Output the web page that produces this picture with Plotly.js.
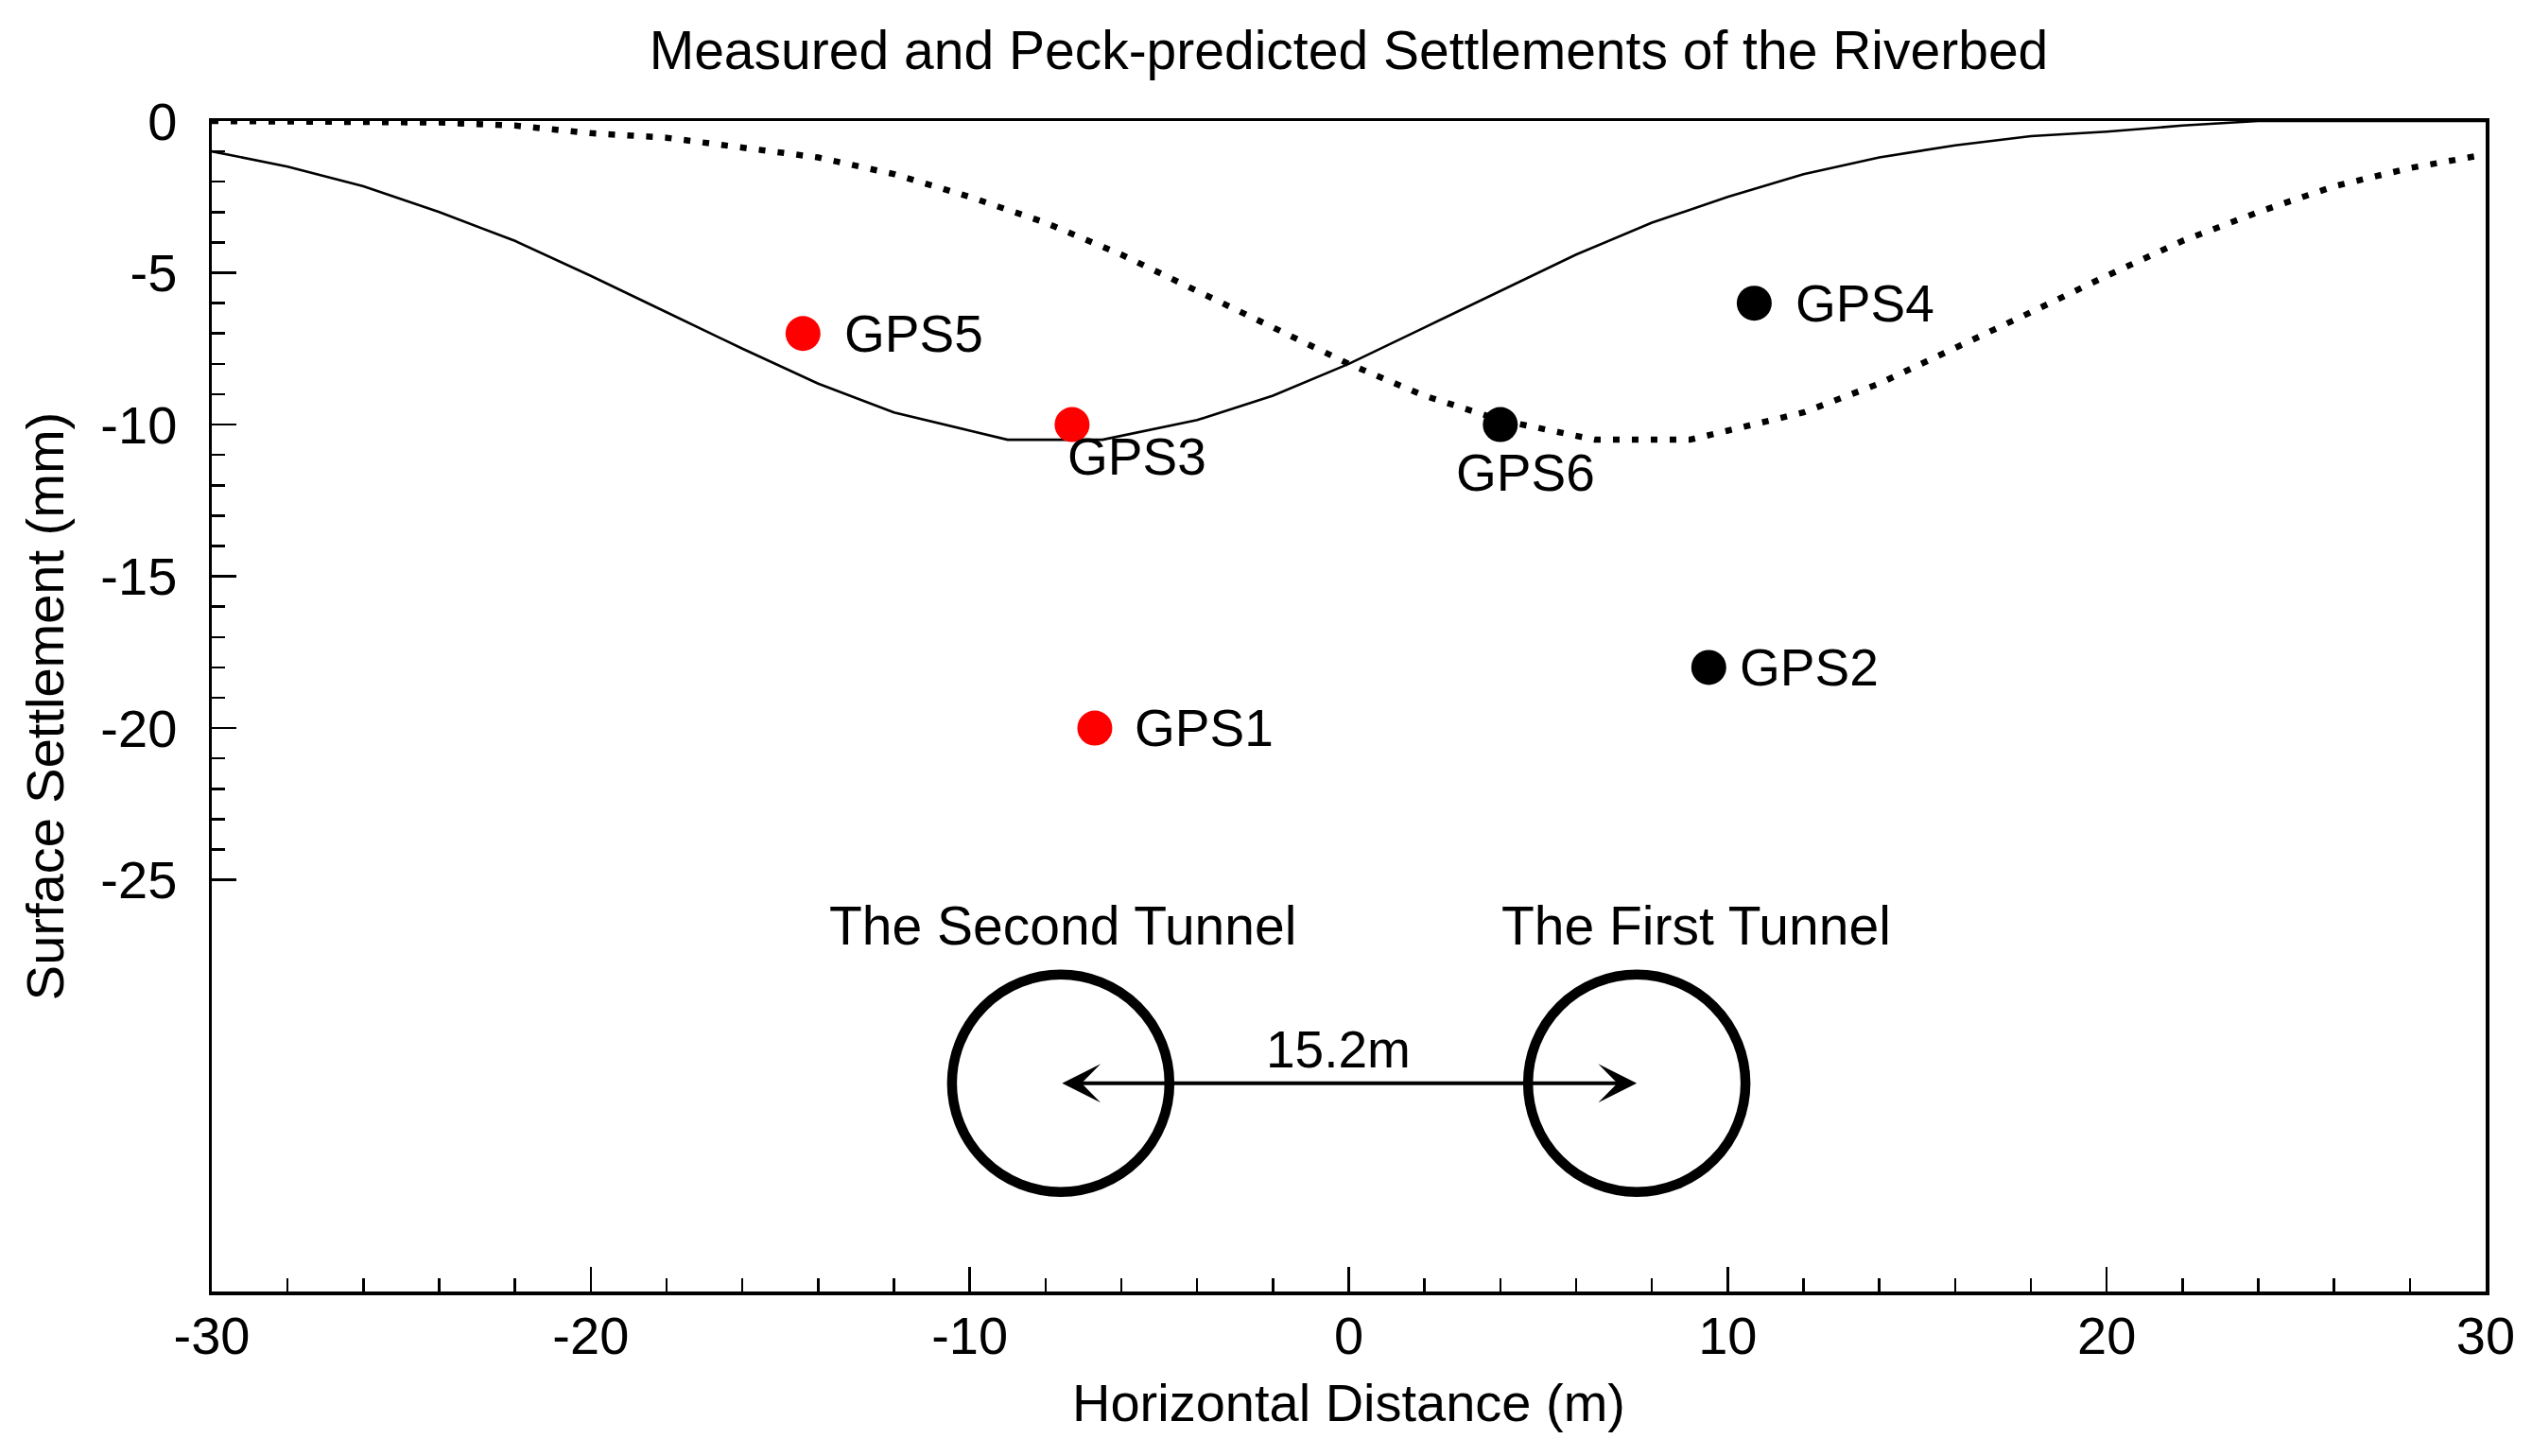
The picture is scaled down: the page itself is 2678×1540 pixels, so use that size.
<!DOCTYPE html>
<html>
<head>
<meta charset="utf-8">
<script src="https://cdn.plot.ly/plotly-3.0.1.min.js"></script>
<style>html,body{margin:0;padding:0;background:#fff;}#chart{width:2678px;height:1540px;}</style>
</head>
<body>
<div id="chart"></div>
<script>
// ---- data ----
// Peck-predicted settlement, second tunnel (solid line)
const solidX = [-30,-28,-26,-24,-22,-20,-18,-16,-14,-12,-10,-9,-6.5,-4,-2,0,2,4,6,8,10,12,14,16,18,20,22,24,26,28,30];
const solidY = [-1.0,-1.5,-2.15,-3.0,-3.95,-5.1,-6.3,-7.5,-8.65,-9.6,-10.2,-10.5,-10.5,-9.85,-9.05,-8.0,-6.8,-5.6,-4.4,-3.35,-2.5,-1.75,-1.2,-0.8,-0.5,-0.35,-0.15,0,0,0,0];
// Peck-predicted settlement, first tunnel (dotted line)
const dottedX = [-30,-28,-26,-24,-22,-20,-18,-16,-14,-12,-10,-8,-6,-4,-2,0,2,4,6.5,9,10,12,14,16,18,20,22,24,26,28,30];
const dottedY = [0,0,0,-0.05,-0.15,-0.4,-0.55,-0.85,-1.2,-1.75,-2.5,-3.35,-4.4,-5.6,-6.8,-8.0,-9.05,-9.85,-10.5,-10.5,-10.2,-9.6,-8.65,-7.5,-6.3,-5.1,-3.95,-3.0,-2.15,-1.55,-1.1];
// measured GPS points
const redNames = ["GPS5","GPS3","GPS1"];
const redX = [-14.4,-7.3,-6.7];
const redY = [-7.0,-10.0,-20.0];
const blackNames = ["GPS6","GPS4","GPS2"];
const blackX = [4.0,10.7,9.5];
const blackY = [-10.0,-6.0,-18.0];
// tunnels
const tunnelNames = ["The Second Tunnel","The First Tunnel"];
const tunnelX = [-7.6,7.6];
const tunnelY = -31.7;
const spacingLabel = "15.2m";
// axis ticks
const xTickVals = [-30,-20,-10,0,10,20,30];
const yTickVals = [0,-5,-10,-15,-20,-25];

// ---- styles / label offsets (pixels) ----
const FONT = "Liberation Sans, Arial, sans-serif";
const FS = 56;
const labelOffsets = {
  GPS5:{xa:"left",dx:42,dy:0},
  GPS3:{xa:"left",dx:-7,dy:-34},
  GPS1:{xa:"left",dx:40,dy:0},
  GPS6:{xa:"center",dx:27,dy:-51},
  GPS4:{xa:"left",dx:42,dy:0},
  GPS2:{xa:"left",dx:31,dy:0}
};
const tunnelLabelShift = [{dx:2,dy:167},{dx:63,dy:167}];

const xMinor = [];
for (let v=-28; v<=28; v+=2) if (v%10!==0) xMinor.push(v);
const yMinor = [];
for (let v=-1; v>=-24; v--) if (v%5!==0) yMinor.push(v);

const traces = [
  {x:solidX, y:solidY, mode:"lines", line:{color:"#000", width:2.6}, hoverinfo:"skip"},
  {x:dottedX, y:dottedY, mode:"lines", line:{color:"#000", width:6.5, dash:"7px,13px"}, hoverinfo:"skip"},
  {x:redX, y:redY, mode:"markers", marker:{color:"#ff0000", size:37, line:{width:0}}, text:redNames},
  {x:blackX, y:blackY, mode:"markers", marker:{color:"#000", size:37, line:{width:0}}, text:blackNames}
];

const annotations = [];
function addLabels(names, xs, ys){
  names.forEach((n,i)=>{
    const o = labelOffsets[n];
    annotations.push({x:xs[i], y:ys[i], xref:"x", yref:"y", text:n, showarrow:false,
      xanchor:o.xa, yanchor:"middle", xshift:o.dx, yshift:o.dy,
      font:{family:FONT, size:55, color:"#000"}});
  });
}
addLabels(redNames, redX, redY);
addLabels(blackNames, blackX, blackY);
tunnelNames.forEach((n,i)=>{
  annotations.push({x:tunnelX[i], y:tunnelY, xref:"x", yref:"y", text:n, showarrow:false,
    xanchor:"center", yanchor:"middle", xshift:tunnelLabelShift[i].dx, yshift:tunnelLabelShift[i].dy,
    font:{family:FONT, size:57, color:"#000"}});
});
const mid = (tunnelX[0]+tunnelX[1])/2;
annotations.push({x:mid, y:tunnelY, xref:"x", yref:"y", text:spacingLabel, showarrow:false,
  xanchor:"center", yanchor:"middle", xshift:-11, yshift:36, font:{family:FONT, size:55, color:"#000"}});
annotations.push({x:tunnelX[1], y:tunnelY, ax:tunnelX[0], ay:tunnelY, xref:"x", yref:"y", axref:"x", ayref:"y",
  text:"", showarrow:true, arrowside:"end+start", arrowhead:3, arrowsize:1.7, startarrowhead:3, startarrowsize:1.7,
  arrowwidth:4, arrowcolor:"#000", standoff:0, startstandoff:0});

const shapes = tunnelX.map(tx=>({type:"circle", xref:"x", yref:"y", xsizemode:"pixel", ysizemode:"pixel",
  xanchor:tx, yanchor:tunnelY, x0:-115, x1:115, y0:-115, y1:115, line:{color:"#000", width:10.5}, layer:"above"}));

const layout = {
  width:2678, height:1540,
  margin:{l:224, r:49, t:128, b:174},
  paper_bgcolor:"#fff", plot_bgcolor:"#fff",
  showlegend:false,
  font:{family:FONT, size:FS, color:"#000"},
  title:{text:"Measured and Peck-predicted Settlements of the Riverbed", font:{family:FONT, size:57, color:"#000"},
    x:0.5, xref:"paper", xanchor:"center", y:1 - 53/1540, yref:"container", yanchor:"middle"},
  xaxis:{range:[-30,30], showgrid:false, zeroline:false, showline:true, mirror:true, linecolor:"#000", linewidth:3.5,
    tickmode:"array", tickvals:xTickVals, ticktext:xTickVals.map(String), ticks:"inside", ticklen:26, tickwidth:2.5, tickcolor:"#000",
    minor:{tickmode:"array", tickvals:xMinor, ticks:"inside", ticklen:14, tickwidth:2.5, tickcolor:"#000", showgrid:false},
    tickfont:{family:FONT, size:FS, color:"#000"}, ticklabelstandoff:-5,
    title:{text:"Horizontal Distance (m)", font:{family:FONT, size:FS, color:"#000"}, standoff:22}},
  yaxis:{range:[-38.56,0], showgrid:false, zeroline:false, showline:true, mirror:true, linecolor:"#000", linewidth:3.5,
    tickmode:"array", tickvals:yTickVals, ticktext:yTickVals.map(String), ticks:"inside", ticklen:26, tickwidth:2.5, tickcolor:"#000",
    minor:{tickmode:"array", tickvals:yMinor, ticks:"inside", ticklen:14, tickwidth:2.5, tickcolor:"#000", showgrid:false},
    tickfont:{family:FONT, size:FS, color:"#000"}, ticklabelstandoff:22,
    title:{text:"Surface Settlement (mm)", font:{family:FONT, size:FS, color:"#000"}, standoff:22}},
  annotations:annotations,
  shapes:shapes
};
Plotly.newPlot("chart", traces, layout, {staticPlot:true, displayModeBar:false});
</script>
</body>
</html>
